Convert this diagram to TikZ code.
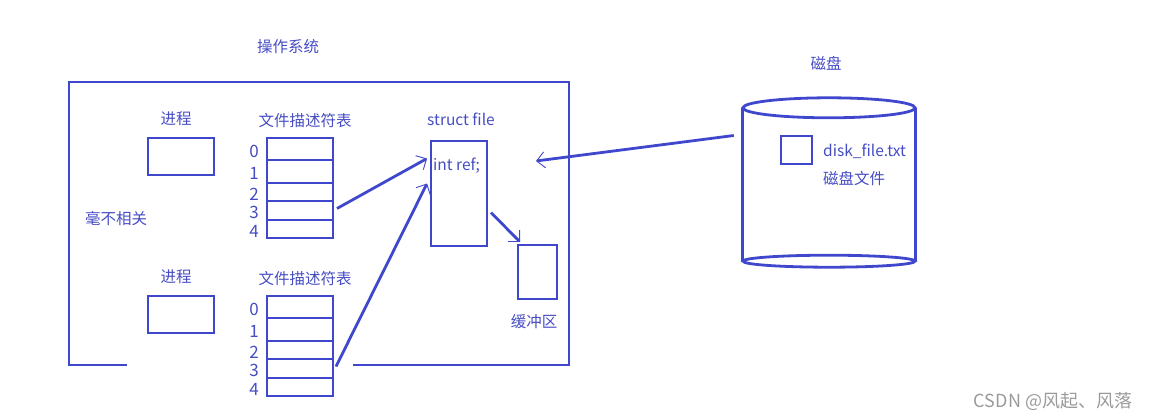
\documentclass[tikz,border=0pt]{standalone}
\usepackage{fontspec}
\setmainfont{Noto Sans CJK SC}
\usetikzlibrary{arrows.meta}
\definecolor{pen}{HTML}{3F48CC}
\definecolor{ink}{HTML}{464CC4}
\definecolor{mark}{HTML}{9A9A9A}

\tikzset{
  box/.style={draw=pen, line width=2.8pt, inner sep=0pt, outer sep=0pt},
  lbl/.style={text=ink, font=\fontsize{15.5}{18}\selectfont, inner sep=0pt},
  idx/.style={text=ink, font=\fontsize{17}{20}\selectfont, inner sep=0pt},
  link/.style={pen, line width=2.8pt, -{Straight Barb[length=8pt,width=16pt,line width=0.9pt]}}
}

\begin{document}
\begin{tikzpicture}[x=1pt,y=-1pt]
\useasboundingbox (0,0) rectangle (1154,420);

\node[lbl] (os) at (288,47) {操作系统};
\draw[pen, line width=2.8pt] (127,365) -| (69,82) -| (569,365) -- (353,365);
\node[lbl] (nohow) at (116,219) {毫不相关};

\foreach \p/\dy in {1/0,2/158}{
  \node[lbl] (proc\p) at (176,{119+\dy}) {进程};
  \node[box, minimum width=66pt, minimum height=37pt] (pbox\p) at (181,{156.5+\dy}) {};
  \node[lbl] (fdt\p) at (305,{121+\dy}) {文件描述符表};
  \foreach \i/\a/\b in {0/138/160,1/160/183,2/183/201,3/201/220,4/220/238}{
    \node[box, minimum width=66pt, minimum height={(\b-\a)*1pt}] (t\p r\i) at (300,{(\a+\b)/2+\dy}) {};
    \node[idx] (n\p r\i) at (254,{(\a+\b)/2+\dy+2}) {\i};
  }
}

\node[lbl] (sftitle) at (461,119) {struct file};
\node[box, minimum width=56pt, minimum height=105pt] (sf) at (459,193.5) {};
\node[lbl, anchor=west] (ref) at (433,166) {int ref;};

\node[box, minimum width=39pt, minimum height=54pt] (buf) at (537.5,272) {};
\node[lbl] (buftxt) at (534,322) {缓冲区};

\node[lbl] (disktitle) at (826,63) {磁盘};
\node[minimum width=172pt, minimum height=153pt, inner sep=0pt] (disk) at (829,184.5) {};
\draw[pen, line width=2.8pt] (disk.north west) -- (disk.south west)
  (disk.north east) -- (disk.south east);
\draw[pen, line width=2.8pt] (disk.north) ellipse [x radius=86pt, y radius=10pt];
\draw[pen, line width=2.8pt] (disk.south) ellipse [x radius=86pt, y radius=6pt];
\node[box, minimum width=31pt, minimum height=28pt] (df) at (796.5,150) {};
\node[lbl, anchor=west] (dfname) at (823,151) {disk\_file.txt};
\node[lbl, anchor=west] (dftxt) at (823,179) {磁盘文件};

\coordinate (sfin) at (536,161);
\draw[link] ([xshift=4pt,yshift=2pt]t1r3.east) -- ([xshift=-4pt,yshift=35pt]sf.west);
\draw[link] ([xshift=3pt,yshift=2pt]t2r3.east) -- ([xshift=-4pt,yshift=10pt]sf.west);
\draw[link] ([xshift=4pt,yshift=-19pt]sf.east) -- ([xshift=2pt,yshift=3pt]buf.north west);
\draw[link] ([xshift=-9pt,yshift=49pt]disk.west) -- (sfin);

\node[text=mark, font=\fontsize{18}{20}\selectfont, inner sep=0pt] (wm) at (1053,401) {CSDN @风起、风落};
\end{tikzpicture}
\end{document}
